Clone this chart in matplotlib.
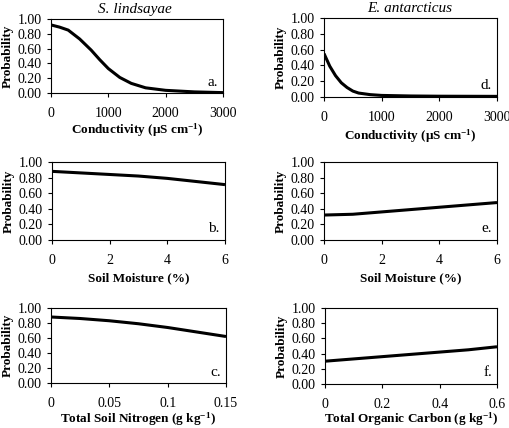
import numpy as np
import matplotlib
matplotlib.use("Agg")
import matplotlib.pyplot as plt

plt.rcParams['font.family'] = ['Liberation Serif', 'DejaVu Serif']
plt.rcParams['mathtext.fontset'] = 'custom'
plt.rcParams['mathtext.rm'] = 'Liberation Serif:bold'
plt.rcParams['mathtext.default'] = 'rm'

# data
sl_cond_x = [0, 150, 300, 500, 700, 850, 1000, 1200, 1400, 1650, 2000, 2500, 3000]
sl_cond = [0.92, 0.89, 0.85, 0.73, 0.58, 0.45, 0.33, 0.21, 0.13, 0.07, 0.036, 0.015, 0.005]
ea_cond_x = [0, 100, 200, 300, 400, 500, 600, 800, 1000, 1500, 2000, 3000]
ea_cond = [0.55, 0.39, 0.27, 0.18, 0.12, 0.075, 0.05, 0.03, 0.02, 0.013, 0.01, 0.008]

moist_x = [0, 1, 2, 3, 4, 5, 6]
sl_moist = [0.88, 0.86, 0.84, 0.82, 0.79, 0.75, 0.71]
ea_moist = [0.32, 0.33, 0.36, 0.39, 0.42, 0.45, 0.48]

nitro_x = [0, 0.025, 0.05, 0.075, 0.1, 0.125, 0.15]
sl_nitro = [0.88, 0.86, 0.83, 0.79, 0.74, 0.68, 0.62]

carb_x = [0, 0.1, 0.2, 0.3, 0.4, 0.5, 0.6]
ea_carb = [0.30, 0.33, 0.36, 0.39, 0.42, 0.45, 0.49]

yticks = [0, 0.2, 0.4, 0.6, 0.8, 1.0]

W, H = 510, 428
fig = plt.figure(figsize=(5.1, 4.28), dpi=100)

def panel(l, t, r, b, x, y, xt, xtl, xlab, xlab_y, letter):
    ax = fig.add_axes([l / W, 1 - b / H, (r - l) / W, (b - t) / H])
    ax.plot(x, y, color='black', lw=2.2, solid_capstyle='butt')
    ax.set_xlim(xt[0], xt[-1])
    ax.set_ylim(0, 1)
    ax.set_xticks(xt)
    ax.set_xticklabels(xtl, fontsize=10)
    ax.set_yticks(yticks)
    ax.set_yticklabels(['%.2f' % v for v in yticks], fontsize=10)
    ax.tick_params(axis='x', direction='out', length=3, width=0.8, pad=7)
    ax.tick_params(axis='y', direction='out', length=3, width=0.8, pad=3.5)
    for s in ax.spines.values():
        s.set_linewidth(0.8)
    ax.set_ylabel('Probability', fontsize=9.5, fontweight='bold', labelpad=3)
    fig.text((l + r) / 2 / W, 1 - xlab_y / H, xlab, ha='center', va='center',
             fontsize=9.5, fontweight='bold')
    ax.text(0.97, 0.06, letter, transform=ax.transAxes, ha='right', va='bottom', fontsize=11)
    return ax

cond_lab = 'Conductivity (\u03bcS cm$^{-1}$)'
panel(51, 19, 223, 93, sl_cond_x, sl_cond, [0, 1000, 2000, 3000], ['0', '1000', '2000', '3000'],
      cond_lab, 130, 'a.')
panel(324, 18, 497, 97, ea_cond_x, ea_cond, [0, 1000, 2000, 3000], ['0', '1000', '2000', '3000'],
      cond_lab, 136, 'd.')
panel(52, 162, 225, 240, moist_x, sl_moist, [0, 2, 4, 6], ['0', '2', '4', '6'],
      'Soil Moisture (%)', 278, 'b.')
panel(324, 162, 497, 240, moist_x, ea_moist, [0, 2, 4, 6], ['0', '2', '4', '6'],
      'Soil Moisture (%)', 278, 'e.')
panel(51, 308, 226, 383, nitro_x, sl_nitro, [0, 0.05, 0.1, 0.15], ['0', '0.05', '0.1', '0.15'],
      'Total Soil Nitrogen (g kg$^{-1}$)', 419, 'c.')
panel(325, 308, 497, 384, carb_x, ea_carb, [0, 0.2, 0.4, 0.6], ['0', '0.2', '0.4', '0.6'],
      'Total Organic Carbon (g kg$^{-1}$)', 419, 'f.')

fig.text(135 / W, 1 - 9 / H, 'S. lindsayae', ha='center', va='center', fontsize=11, style='italic')
fig.text(410 / W, 1 - 8 / H, 'E. antarcticus', ha='center', va='center', fontsize=11, style='italic')

fig.savefig('out.png', dpi=100)
